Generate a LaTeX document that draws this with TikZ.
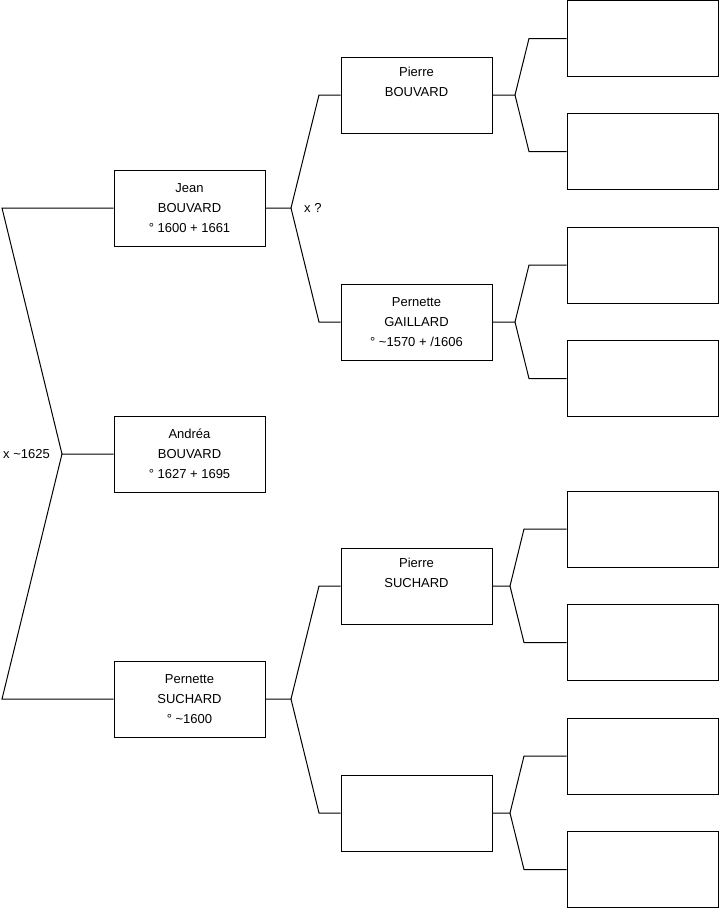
\documentclass[tikz,border=0pt]{standalone}
\usepackage{fontspec}
\setmainfont{Liberation Sans}
\usetikzlibrary{positioning,calc}
\newcommand{\couple}[5]{%
  \draw[branch] (#1) -- (#2) -- (#3 |- #4) -- (#4);
  \draw[branch] (#2) -- (#3 |- #5) -- (#5);
}
\tikzset{
  person/.style={
    draw=black,line width=1pt,fill=white,
    minimum width=151pt,minimum height=76pt,inner sep=0pt,
    align=center,font=\fontsize{13}{20}\selectfont
  },
  branch/.style={draw=black,line width=1pt},
  union/.style={font=\fontsize{13}{14}\selectfont,inner sep=0pt}
}

\begin{document}
\begin{tikzpicture}[x=1pt,y=-1pt]
  \useasboundingbox (0,0) rectangle (719,908);
  % generation 1 and 2
  \node[person] (jean) at (189.5,208) {Jean\\BOUVARD\\° 1600 + 1661};
  \node[person] (andrea) at (189.5,454) {Andréa\\BOUVARD\\° 1627 + 1695};
  \node[person] (pernS) at (189.5,699) {Pernette\\SUCHARD\\° \textasciitilde1600};
  % generation 3
  \node[person] (pierreB) at (416.5,95) {Pierre\\BOUVARD\\\strut};
  \node[person] (pernG) at (416.5,322) {Pernette\\GAILLARD\\° \textasciitilde1570 + /1606};
  \node[person] (pierreS) at (416.5,586) {Pierre\\SUCHARD\\\strut};
  \node[person] (unkS) at (416.5,813) {};
  % generation 4
  \node[person] (gp1) at (642.5,38.5) {};
  \node[person] (gp2) at (642.5,151.5) {};
  \node[person] (gp3) at (642.5,265) {};
  \node[person] (gp4) at (642.5,378.5) {};
  \node[person] (gp5) at (642.5,529) {};
  \node[person] (gp6) at (642.5,642.5) {};
  \node[person] (gp7) at (642.5,756) {};
  \node[person] (gp8) at (642.5,869.5) {};
  % knots and bends
  \coordinate (k0) at (62,454);  \coordinate (e0) at (2,0);
  \coordinate (k1) at (291,208); \coordinate (e1) at (319,0);
  \coordinate (k2) at (291,699); \coordinate (e2) at (319,0);
  \coordinate (k3) at (515,95);  \coordinate (e3) at (529,0);
  \coordinate (k4) at (515,322); \coordinate (e4) at (529,0);
  \coordinate (k5) at (510,586); \coordinate (e5) at (524,0);
  \coordinate (k6) at (510,813); \coordinate (e6) at (524,0);
  \couple{andrea.west}{k0}{e0}{jean.west}{pernS.west}
  \couple{jean.east}{k1}{e1}{pierreB.west}{pernG.west}
  \couple{pernS.east}{k2}{e2}{pierreS.west}{unkS.west}
  \couple{pierreB.east}{k3}{e3}{gp1.west}{gp2.west}
  \couple{pernG.east}{k4}{e4}{gp3.west}{gp4.west}
  \couple{pierreS.east}{k5}{e5}{gp5.west}{gp6.west}
  \couple{unkS.east}{k6}{e6}{gp7.west}{gp8.west}
  % marriages
  \node[union,anchor=east] (m0) at ($(k0)+(-12,0)$) {x \textasciitilde1625};
  \node[union,anchor=west] (m1) at ($(k1)+(13,0)$) {x ?};
\end{tikzpicture}
\end{document}
